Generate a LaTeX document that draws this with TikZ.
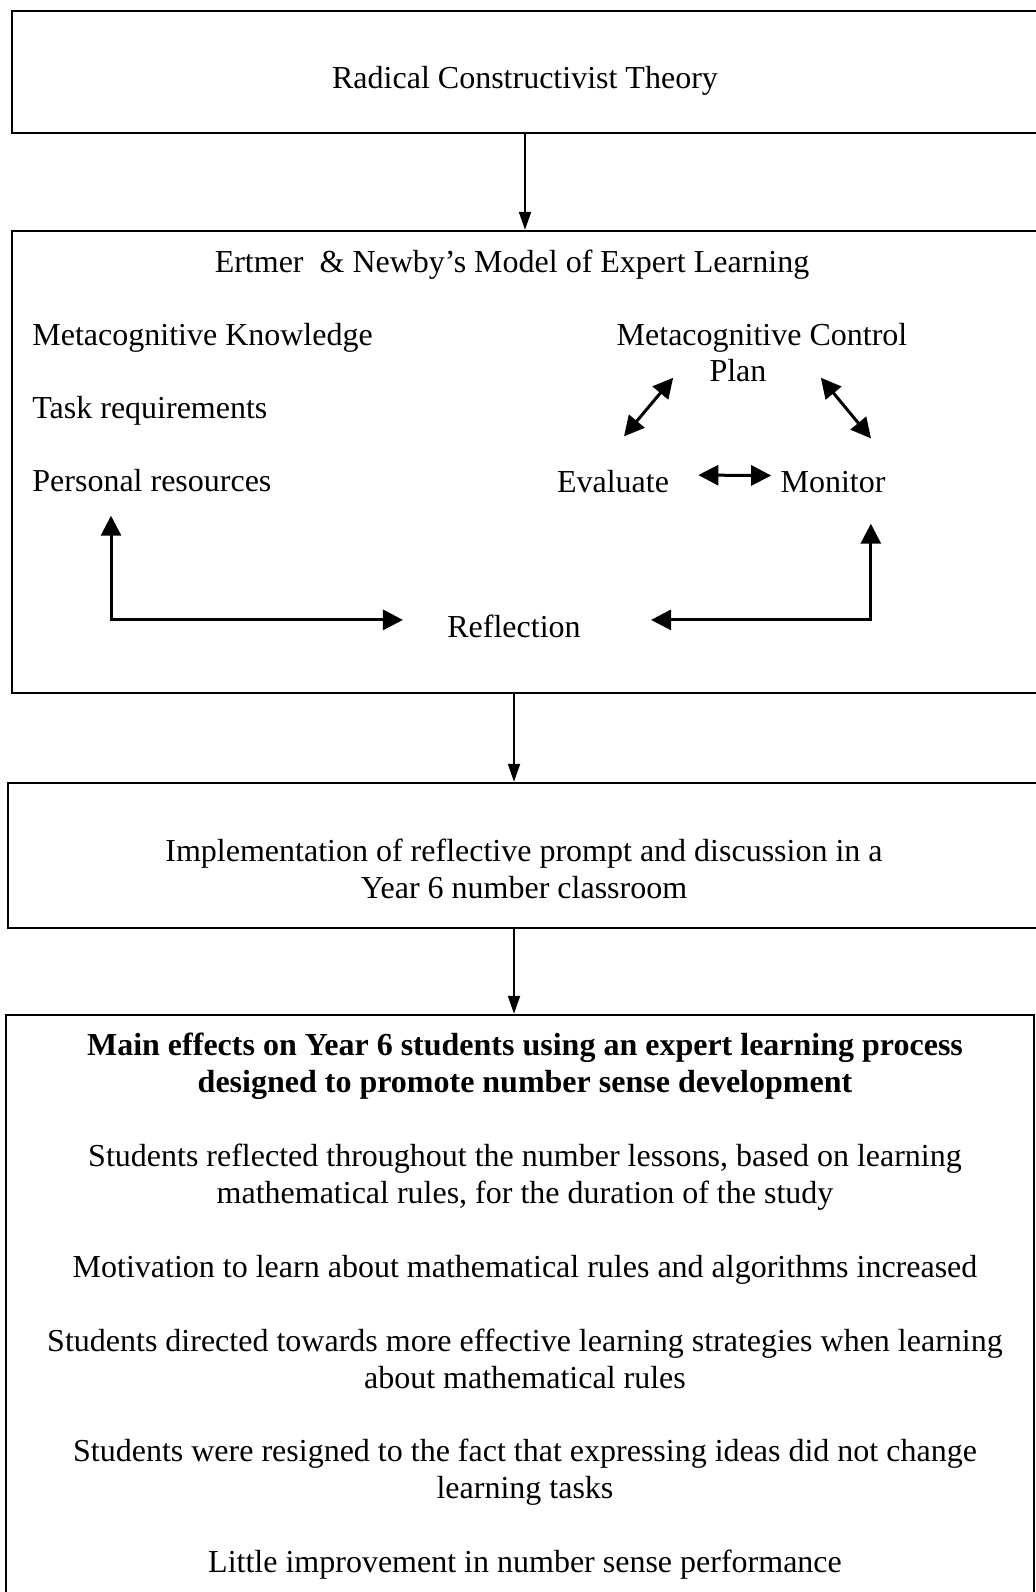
\documentclass[tikz,border=0pt]{standalone}
\usepackage{fontspec}
\setmainfont{Liberation Serif}
\usetikzlibrary{arrows.meta,positioning,calc,fit}

\begin{document}
\begin{tikzpicture}[x=0.5pt,y=-0.5pt,
      font=\fontsize{16}{18.5}\selectfont,
      box/.style={draw,line width=1.2pt,inner sep=0pt},
      lbl/.style={anchor=base,align=center,inner sep=0pt},
      lft/.style={anchor=base west,inner sep=0pt},
      arr/.style={-{Triangle[length=9pt,width=6pt]},line width=1pt},
      fb/.style={{Triangle[length=10pt,width=10pt]}-{Triangle[length=10pt,width=10pt]},line width=1.5pt}]
    \useasboundingbox (0,0) rectangle (1035,1592);
    % frames
    \node[box,fit={(12,11) (1040,133)}] (theory) {};
    \node[box,fit={(12,231) (1040,693)}] (model) {};
    \node[box,fit={(8,783) (1040,928)}] (impl) {};
    \node[box,fit={(6,1015) (1034,1620)}] (effects) {};
    % texts (multi-line nodes sit on their last baseline)
    \node[lbl] (rct) at (525,88) {Radical Constructivist Theory};
    \node[lbl] (title) at (512,272) {Ertmer\ \ \& Newby’s Model of Expert Learning};
    \node[lft] (know) at (32,345) {Metacognitive Knowledge};
    \node[lft] (task) at (32,418) {Task requirements};
    \node[lft] (pres) at (32,491) {Personal resources};
    \node[lbl] (ctrl) at (762,345) {Metacognitive Control};
    \node[lbl] (plan) at (738,381) {Plan};
    \node[lbl] (eval) at (613,492) {Evaluate};
    \node[lbl] (monitor) at (833,492) {Monitor};
    \node[lbl] (refl) at (514,637) {Reflection};
    \node[lbl] (prompt) at (524,898) {Implementation of reflective prompt and discussion in a\\ Year 6 number classroom};
    \node[lbl,font=\fontsize{16}{18.5}\selectfont\bfseries] (main) at (525,1092) {Main effects on Year 6 students using an expert learning process\\ designed to promote number sense development};
    \node[lbl] (e1) at (525,1203) {Students reflected throughout the number lessons, based on learning\\ mathematical rules, for the duration of the study};
    \node[lbl] (e2) at (525,1277) {Motivation to learn about mathematical rules and algorithms increased};
    \node[lbl] (e3) at (525,1388) {Students directed towards more effective learning strategies when learning\\ about mathematical rules};
    \node[lbl] (e4) at (525,1498) {Students were resigned to the fact that expressing ideas did not change\\ learning tasks};
    \node[lbl] (e5) at (525,1572) {Little improvement in number sense performance};
    % connectors
    \draw[arr] (theory.south -| rct) -- (model.north -| rct);
    \draw[arr] (model.south -| refl) -- (impl.north -| refl);
    \draw[arr] (impl.south -| refl) -- (effects.north -| refl);
    \draw[fb] ($(eval.north)+(11,-33)$) -- ($(plan.south west)+(-36,-4)$);
    \draw[fb] ($(plan.south east)+(54,-4)$) -- ($(monitor.north)+(38,-32)$);
    \draw[fb] ($(eval.east)+(29,-6)$) -- ($(monitor.west)+(-9,-6)$);
    \draw[fb] ($(pres.south west)+(79,24)$) |- ($(refl.west)+(-44,-6)$);
    \draw[fb] ($(monitor.south east)+(-15,31)$) |- ($(refl.east)+(70,-6)$);
  \end{tikzpicture}
\end{document}
